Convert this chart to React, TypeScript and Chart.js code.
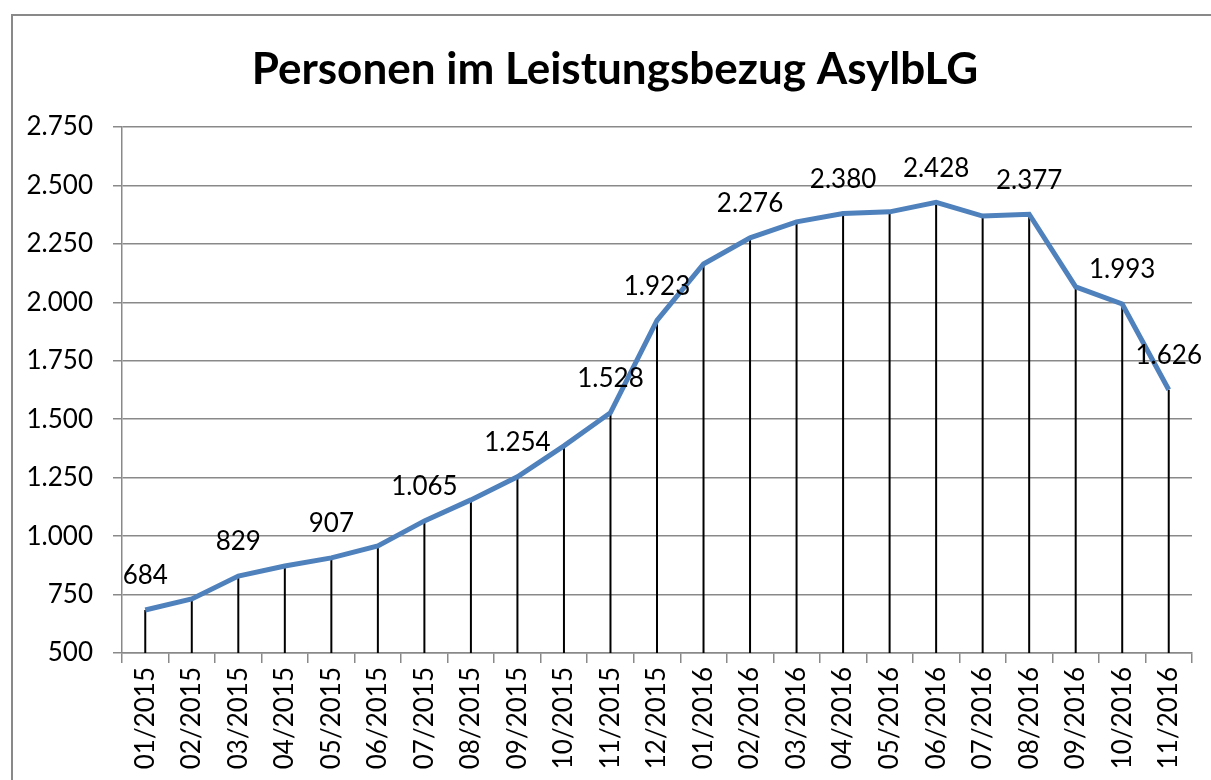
import React, { useEffect, useRef } from "react";
import { Chart, registerables } from "chart.js";

Chart.register(...registerables);

const categories = [
  "01/2015", "02/2015", "03/2015", "04/2015", "05/2015", "06/2015",
  "07/2015", "08/2015", "09/2015", "10/2015", "11/2015", "12/2015",
  "01/2016", "02/2016", "03/2016", "04/2016", "05/2016", "06/2016",
  "07/2016", "08/2016", "09/2016", "10/2016", "11/2016",
];

const persons = [
  684, 731, 829, 872, 907, 958,
  1065, 1155, 1254, 1386, 1528, 1923,
  2164, 2276, 2344, 2380, 2387, 2428,
  2369, 2377, 2066, 1993, 1626,
];

// indices of points that carry a data label
const labelledPoints = [0, 2, 4, 6, 8, 10, 11, 13, 15, 17, 19, 21, 22];

const yTicks = { min: 500, max: 2750, step: 250 };

const TITLE = "Personen im Leistungsbezug AsylbLG";
const FONT = "Lato, 'Open Sans', sans-serif";

function fmt(v: number): string {
  const s = Math.round(v).toString();
  return s.replace(/\B(?=(\d{3})+(?!\d))/g, ".");
}

const framePlugin = {
  id: "frame",
  beforeDraw(chart: any) {
    const ctx = chart.ctx;
    ctx.save();
    ctx.fillStyle = "#ffffff";
    ctx.fillRect(0, 0, chart.width, chart.height);
    ctx.strokeStyle = "#898989";
    ctx.lineWidth = 2;
    ctx.strokeRect(12, 15, chart.width + 40, chart.height + 40);
    ctx.fillStyle = "#000000";
    ctx.font = `bold 44px ${FONT}`;
    ctx.textAlign = "center";
    ctx.textBaseline = "middle";
    ctx.fillText(TITLE, 615, 70);
    ctx.restore();
  },
};

const dropLinesPlugin = {
  id: "dropLines",
  beforeDatasetsDraw(chart: any) {
    const ctx = chart.ctx;
    const meta = chart.getDatasetMeta(0);
    const bottom = chart.chartArea.bottom;
    ctx.save();
    ctx.strokeStyle = "#000000";
    ctx.lineWidth = 2;
    meta.data.forEach((pt: any) => {
      ctx.beginPath();
      ctx.moveTo(pt.x, pt.y);
      ctx.lineTo(pt.x, bottom);
      ctx.stroke();
    });
    ctx.restore();
  },
};

const dataLabelPlugin = {
  id: "dataLabels",
  afterDatasetsDraw(chart: any) {
    const ctx = chart.ctx;
    const meta = chart.getDatasetMeta(0);
    ctx.save();
    ctx.fillStyle = "#000000";
    ctx.font = `26px ${FONT}`;
    ctx.textAlign = "center";
    ctx.textBaseline = "middle";
    labelledPoints.forEach((i) => {
      const pt = meta.data[i];
      ctx.fillText(fmt(persons[i]), pt.x, pt.y - 34);
    });
    ctx.restore();
  },
};

export default function App() {
  const ref = useRef<HTMLCanvasElement | null>(null);

  useEffect(() => {
    if (!ref.current) return;
    const chart = new Chart(ref.current, {
      type: "line",
      data: {
        labels: categories,
        datasets: [
          {
            data: persons,
            borderColor: "#4F81BD",
            borderWidth: 5,
            pointRadius: 0,
            tension: 0,
            fill: false,
          },
        ],
      },
      options: {
        responsive: false,
        animation: false,
        layout: { padding: { top: 127, right: 19, left: 0, bottom: 0 } },
        plugins: {
          legend: { display: false },
          tooltip: { enabled: false },
          title: { display: false },
        },
        scales: {
          x: {
            type: "category",
            offset: true,
            afterFit(scale: any) {
              scale.height = 127;
            },
            grid: {
              offset: true,
              drawOnChartArea: false,
              drawTicks: true,
              tickLength: 10,
              color: "#898989",
              lineWidth: 1.5,
            },
            border: { display: true, color: "#898989", width: 1.5 },
            ticks: {
              autoSkip: false,
              maxRotation: 90,
              minRotation: 90,
              padding: 4,
              color: "#000000",
              font: { family: FONT, size: 26 },
            },
          },
          y: {
            min: yTicks.min,
            max: yTicks.max,
            afterFit(scale: any) {
              scale.width = 122;
            },
            grid: {
              color: "#898989",
              lineWidth: 1.5,
              drawTicks: true,
              tickLength: 9,
            },
            border: { display: true, color: "#898989", width: 1.5 },
            ticks: {
              stepSize: yTicks.step,
              padding: 20,
              color: "#000000",
              font: { family: FONT, size: 26 },
              callback: (v: any) => fmt(Number(v)),
            },
          },
        },
      },
      plugins: [framePlugin, dropLinesPlugin, dataLabelPlugin],
    });
    return () => chart.destroy();
  }, []);

  return (
    <div style={{ position: "fixed", left: 0, top: 0, width: 1211, height: 780, background: "#fff" }}>
      <canvas ref={ref} width={1211} height={780} style={{ display: "block" }} />
    </div>
  );
}
